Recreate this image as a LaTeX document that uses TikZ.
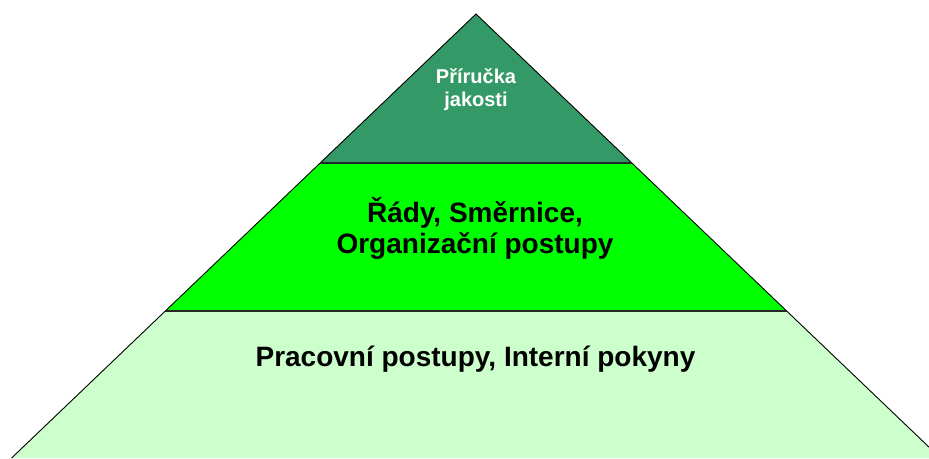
\documentclass[tikz,border=0pt]{standalone}
\usepackage{fontspec}
\setmainfont{Liberation Sans}
\definecolor{topgreen}{HTML}{339966}
\definecolor{midgreen}{HTML}{00FF00}
\definecolor{lowgreen}{HTML}{CCFFCC}
\begin{document}
\begin{tikzpicture}[x=1pt,y=-1pt,
  outline/.style={draw=black,line width=0.9pt},
  divider/.style={draw=black!85,line width=2pt},
  lbl/.style={anchor=base,inner sep=0pt},
  small/.style={lbl,text=white,font=\bfseries\fontsize{20}{24}\selectfont},
  big/.style={lbl,font=\bfseries\fontsize{28}{33}\selectfont}]
\useasboundingbox (0,0) rectangle (929,458);
\coordinate (apex) at (476,14);
\coordinate (tl) at (320,163);
\coordinate (tr) at (632,163);
\coordinate (ml) at (165,311);
\coordinate (mr) at (787,311);
\coordinate (bl) at (11.6,458);
\coordinate (br) at (940.4,458);
\begin{scope}
\clip (0,0) rectangle (929,458);
\fill[topgreen] (apex) -- (tr) -- (tl) -- cycle;
\fill[midgreen] (tl) -- (tr) -- (mr) -- (ml) -- cycle;
\fill[lowgreen] (ml) -- (mr) -- (br) -- (bl) -- cycle;
\draw[outline] (bl) -- (apex) -- (br);
\draw[divider] (tl) -- (tr);
\draw[divider] (ml) -- (mr);
\end{scope}
\node[small] (t1a) at (476,83) {Příručka};
\node[small] (t1b) at (476,106) {jakosti};
\node[big] (t2a) at (475,222) {Řády, Směrnice,};
\node[big] (t2b) at (475,253) {Organizační postupy};
\node[big] (t3) at (475.5,366) {Pracovní postupy, Interní pokyny};
\end{tikzpicture}
\end{document}
